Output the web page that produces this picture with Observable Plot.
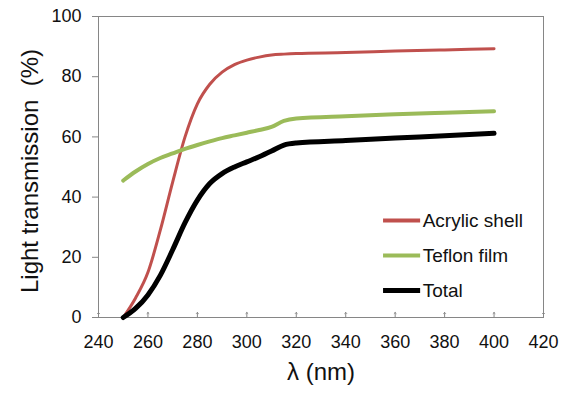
<!DOCTYPE html>
<html>
<head>
<meta charset="utf-8">
<script src="https://cdn.jsdelivr.net/npm/d3@7"></script>
<script src="https://cdn.jsdelivr.net/npm/@observablehq/plot@0.6"></script>
<style>
  html, body { margin: 0; padding: 0; background: #fff; }
  #chart { width: 562px; height: 396px; }
</style>
</head>
<body>
<div id="chart"></div>
<script>
const wavelengths = [250, 255, 260, 265, 270, 275, 280, 285, 290, 295, 300, 305, 310, 315, 320, 340, 360, 380, 400];
const acrylicShell = [0, 6.5, 15, 29, 45, 60, 71, 77.5, 81.5, 84, 85.5, 86.5, 87.2, 87.5, 87.7, 88, 88.5, 88.9, 89.3];
const teflonFilm  = [45.5, 48.5, 51, 53, 54.5, 56, 57.3, 58.5, 59.6, 60.5, 61.4, 62.3, 63.3, 65.3, 66.1, 66.9, 67.5, 68, 68.5];
const total       = [0, 3, 7.5, 14, 22.5, 31.5, 39, 44.5, 47.8, 50, 51.7, 53.4, 55.3, 57.3, 58, 58.8, 59.6, 60.4, 61.2];
const seriesNames = ["Acrylic shell", "Teflon film", "Total"];
const seriesColors = ["#C0504D", "#9BBB59", "#000000"];
const seriesWidths = [3, 4, 5];
const xTicks = [240, 260, 280, 300, 320, 340, 360, 380, 400, 420];
const yTicks = [0, 20, 40, 60, 80, 100];

const seriesValues = [acrylicShell, teflonFilm, total];
const rows = seriesNames.flatMap((name, i) =>
  wavelengths.map((w, j) => ({series: name, x: w, y: seriesValues[i][j]})));
const legendRows = seriesNames.map((name, i) => ({series: name, i}));

const chart = Plot.plot({
  width: 562,
  height: 396,
  marginLeft: 98,
  marginRight: 19,
  marginTop: 16,
  marginBottom: 79,
  style: {fontFamily: "Liberation Sans, Arial, sans-serif", fontSize: "18px", color: "#000", background: "#fff"},
  x: {domain: [240, 420], ticks: xTicks},
  y: {domain: [0, 100], ticks: yTicks},
  marks: [
    Plot.frame({stroke: "#868686", strokeWidth: 1}),
    Plot.axisX({ticks: xTicks, tickSize: 0, tickPadding: 18, fontSize: 18, label: null, fill: "#111"}),
    Plot.vectorX(xTicks, {x: d => d, y: 0, length: 5, anchor: "start", rotate: 0, stroke: "#868686", strokeWidth: 1}),
    Plot.axisY({ticks: yTicks, tickSize: 6, tickPadding: 11, fontSize: 18, stroke: "#868686", label: null, fill: "#111"}),
    ...seriesNames.map((name, i) =>
      Plot.line(rows.filter(d => d.series === name), {
        x: "x", y: "y", stroke: seriesColors[i], strokeWidth: seriesWidths[i],
        curve: "monotone-x", strokeLinecap: "round"
      })),
    Plot.ruleY(legendRows, {
      x1: 355.3, x2: 370.3, y: d => 32.2 - d.i * 11.6,
      stroke: d => seriesColors[d.i], strokeWidth: d => seriesWidths[d.i] === 5 ? 5 : 4
    }),
    Plot.text(legendRows, {
      x: 370.3, y: d => 32.2 - d.i * 11.6, text: "series", textAnchor: "start", dx: 2,
      fontSize: 19, fill: "#111"
    }),
    Plot.text(["λ (nm)"], {frameAnchor: "bottom", dy: 62, fontSize: 24, text: d => d, fill: "#111"}),
    Plot.text(["Light transmission\u00a0 (%)"], {frameAnchor: "left", dx: -68, dy: 4, rotate: -90, textAnchor: "middle", fontSize: 24, text: d => d, fill: "#111"})
  ]
});
document.getElementById("chart").appendChild(chart);
</script>
</body>
</html>
